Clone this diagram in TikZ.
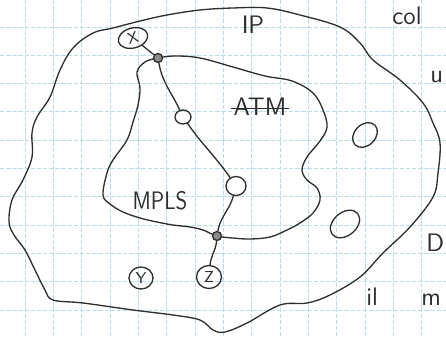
\documentclass[tikz,border=0pt]{standalone}
\usetikzlibrary{shapes.geometric}
\definecolor{Pencil}{HTML}{2E2E2E}
\definecolor{GridBlue}{HTML}{BFDCE6}
\definecolor{RouterGrey}{HTML}{8C8C8C}
\begin{document}
\begin{tikzpicture}[x=0.02cm,y=-0.02cm,
  gridline/.style={GridBlue,line width=0.5pt,dash pattern=on 2.5pt off 1pt},
  pen/.style={Pencil,line width=0.75pt,line cap=round,line join=round},
  host/.style={ellipse,draw=Pencil,line width=0.75pt,inner sep=0pt,font=\sffamily\small,text=Pencil},
  router/.style={circle,draw=Pencil,fill=RouterGrey,line width=0.75pt,minimum size=0.18cm,inner sep=0pt},
  scrawl/.style={font=\sffamily\Large,text=Pencil,inner sep=0pt}]
\useasboundingbox (0,0) rectangle (446,338);
\clip (0,0) rectangle (446,338);
\fill[white] (0,0) rectangle (446,338);
% squared paper
\foreach \gx in {0,...,14} \draw[gridline] ({25+28.35*\gx},0) -- ({25+28.35*\gx},338);
\foreach \gy in {0,...,10} \draw[gridline] (0,{27+28.3*\gy}) -- (446,{27+28.3*\gy});
% IP cloud
\draw[pen] plot[smooth cycle,tension=0.6] coordinates {
  (113,28) (140,21) (167,15) (200,10) (233,8) (267,8) (300,15) (340,27)
  (360,43) (373,60) (400,80) (423,103) (433,123) (440,143) (438,173)
  (433,197) (410,227) (383,253) (360,277) (330,295) (307,303) (280,305)
  (247,323) (225,332) (213,330) (200,320) (173,315) (133,310) (83,303)
  (53,300) (45,290) (35,270) (25,250) (14,235) (9,222) (12,200) (23,180)
  (32,157) (32,133) (37,117) (50,97) (60,70) (73,48) (93,33)};
% ATM / MPLS cloud
\draw[pen] plot[smooth cycle,tension=0.6] coordinates {
  (158,58) (175,56) (200,58) (233,67) (265,76) (292,81) (313,93) (323,110)
  (327,127) (320,141) (307,157) (302,170) (307,180) (317,188) (320,200)
  (313,213) (300,223) (287,230) (270,237) (250,239) (233,238) (217,236)
  (203,230) (190,227) (173,225) (157,222) (140,218) (123,212) (110,204)
  (103,195) (107,173) (113,160) (127,140) (133,122) (138,105) (140,88)
  (137,72) (145,62)};
% hosts and routers
\node[host,minimum width=0.6cm,minimum height=0.4cm,rotate=15] (hostX) at (133,38) {X};
\node[router] (r1) at (158,58) {};
\node[host,minimum width=0.32cm,minimum height=0.28cm] (hostA) at (183,117) {};
\node[host,minimum width=0.4cm,minimum height=0.38cm] (hostB) at (236,186) {};
\node[router] (r2) at (217,236) {};
\node[host,minimum width=0.5cm,minimum height=0.46cm] (hostZ) at (209,277) {Z};
\node[host,minimum width=0.48cm,minimum height=0.44cm] (hostY) at (141,278) {Y};
\node[host,minimum width=0.56cm,minimum height=0.42cm,rotate=45] (hostC) at (365,135) {};
\node[host,minimum width=0.66cm,minimum height=0.46cm,rotate=40] (hostD) at (345,224) {};
% path X to Z
\draw[pen] (hostX) -- (r1);
\draw[pen] (r1) to[out=-80,in=115] (hostA);
\draw[pen] (hostA) to[out=-55,in=125] (hostB);
\draw[pen] (hostB) to[out=-105,in=80] (r2);
\draw[pen] (r2) to[out=-95,in=85] (hostZ);
% labels
\node[scrawl] (ipLabel) at (253,25) {IP};
\node[scrawl] (atmLabel) at (260,107) {ATM};
\draw[pen] ([xshift=-1pt,yshift=-1pt]atmLabel.west) -- ([xshift=1pt,yshift=-1pt]atmLabel.east);
\node[scrawl,xscale=0.85] (mplsLabel) at (160,201) {MPLS};
% notes at the margin
\node[scrawl,anchor=west] (colNote) at (392,16) {col};
\node[scrawl,anchor=west] (uNote) at (430,77) {u};
\node[scrawl,anchor=west] (dNote) at (426,243) {D};
\node[scrawl,anchor=west] (ilNote) at (366,297) {il};
\node[scrawl,anchor=west] (mNote) at (421,300) {m};
\end{tikzpicture}
\end{document}
